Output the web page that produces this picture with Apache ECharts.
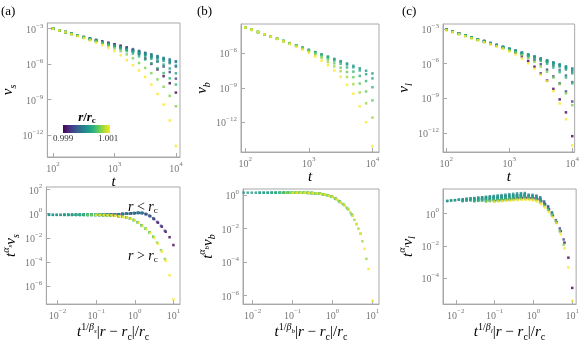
<!DOCTYPE html>
<html>
<head>
<meta charset="utf-8">
<script src="https://cdn.jsdelivr.net/npm/echarts@6/dist/echarts.min.js"></script>
<style>
  html, body { margin: 0; padding: 0; background: #fff; }
  #chart { width: 582px; height: 343px; }
</style>
</head>
<body>
<div id="chart"></div>
<script>
// log10 of the sampled times t
const tLog = [2.0, 2.1, 2.2, 2.3, 2.4, 2.5, 2.6, 2.7, 2.8, 2.9, 3.0, 3.1, 3.2, 3.3, 3.4, 3.5, 3.6, 3.7, 3.8, 3.9, 4.0];

// r / r_c of each curve
const rS = [0.999, 0.9994, 0.9997, 0.99985, 0.99994, 1.00006, 1.00015, 1.0003, 1.0006, 1.001];
const rB = [1.00006, 1.00015, 1.0003, 1.0005, 1.0007, 1.001];
const rL = [0.999, 0.9994, 0.9997, 0.99985, 0.99994, 1.00006, 1.00015, 1.0003, 1.0006, 1.001];

// exponents
const alphaS = 1.45, alphaB = 1.95, alphaL = 1.92;
const invBeta = 1.0;

// log10(t^alpha * nu), one row per r, one column per t
const scaledS = [
  [-0.10, -0.10, -0.10, -0.09, -0.08, -0.07, -0.05, -0.03, -0.01, 0.02, 0.04, 0.06, 0.05, -0.05, -0.22, -0.45, -0.75, -1.08, -1.50, -1.95, -2.60],
  [-0.10, -0.10, -0.10, -0.10, -0.10, -0.09, -0.08, -0.07, -0.05, -0.03, -0.01, 0.01, 0.04, 0.06, 0.05, -0.03, -0.18, -0.40, -0.69, -1.01, -1.42],
  [-0.10, -0.10, -0.10, -0.10, -0.10, -0.10, -0.10, -0.10, -0.09, -0.08, -0.07, -0.05, -0.03, -0.01, 0.01, 0.04, 0.06, 0.05, -0.03, -0.18, -0.40],
  [-0.10, -0.10, -0.10, -0.10, -0.10, -0.10, -0.10, -0.10, -0.10, -0.10, -0.10, -0.09, -0.08, -0.07, -0.05, -0.03, -0.01, 0.01, 0.04, 0.06, 0.05],
  [-0.10, -0.10, -0.10, -0.10, -0.10, -0.10, -0.10, -0.10, -0.10, -0.10, -0.10, -0.10, -0.10, -0.10, -0.10, -0.09, -0.08, -0.07, -0.05, -0.03, -0.01],
  [-0.10, -0.10, -0.10, -0.10, -0.10, -0.10, -0.10, -0.10, -0.10, -0.10, -0.10, -0.10, -0.10, -0.11, -0.12, -0.13, -0.15, -0.17, -0.21, -0.26, -0.32],
  [-0.10, -0.10, -0.10, -0.10, -0.10, -0.10, -0.10, -0.10, -0.10, -0.11, -0.12, -0.13, -0.15, -0.17, -0.21, -0.26, -0.32, -0.41, -0.53, -0.71, -0.97],
  [-0.10, -0.10, -0.10, -0.10, -0.10, -0.10, -0.11, -0.12, -0.13, -0.15, -0.17, -0.21, -0.26, -0.32, -0.41, -0.53, -0.71, -0.97, -1.24, -1.54, -1.92],
  [-0.10, -0.10, -0.10, -0.11, -0.12, -0.13, -0.15, -0.17, -0.21, -0.26, -0.32, -0.41, -0.53, -0.71, -0.97, -1.24, -1.54, -1.92, -2.40, -3.02, -3.75],
  [-0.10, -0.11, -0.12, -0.13, -0.15, -0.18, -0.22, -0.27, -0.33, -0.43, -0.55, -0.75, -1.02, -1.30, -1.60, -2.00, -2.50, -3.15, -3.90, -5.10, -7.10]
];
const scaledB = [
  [0.15, 0.15, 0.15, 0.15, 0.15, 0.15, 0.15, 0.15, 0.15, 0.15, 0.15, 0.15, 0.15, 0.15, 0.15, 0.15, 0.14, 0.13, 0.11, 0.09, 0.05],
  [0.15, 0.15, 0.15, 0.15, 0.15, 0.15, 0.15, 0.15, 0.15, 0.15, 0.15, 0.15, 0.14, 0.13, 0.11, 0.09, 0.05, 0.00, -0.08, -0.21, -0.38],
  [0.15, 0.15, 0.15, 0.15, 0.15, 0.15, 0.15, 0.15, 0.15, 0.14, 0.13, 0.11, 0.09, 0.05, 0.00, -0.08, -0.21, -0.38, -0.56, -0.81, -1.15],
  [0.15, 0.15, 0.15, 0.15, 0.15, 0.15, 0.15, 0.14, 0.13, 0.11, 0.08, 0.04, -0.02, -0.10, -0.24, -0.42, -0.60, -0.86, -1.22, -1.72, -2.30],
  [0.15, 0.15, 0.15, 0.15, 0.15, 0.14, 0.13, 0.12, 0.10, 0.06, 0.01, -0.06, -0.17, -0.33, -0.51, -0.73, -1.04, -1.47, -2.00, -2.75, -3.80],
  [0.15, 0.15, 0.15, 0.15, 0.14, 0.13, 0.11, 0.08, 0.04, -0.02, -0.10, -0.24, -0.42, -0.60, -0.86, -1.22, -1.72, -2.30, -3.20, -4.40, -6.30]
];
const scaledL = [
  [0.78, 0.81, 0.83, 0.86, 0.88, 0.91, 0.94, 0.95, 0.96, 0.95, 0.94, 0.89, 0.77, 0.57, 0.26, -0.13, -0.55, -1.08, -1.80, -2.73, -4.60],
  [0.78, 0.81, 0.83, 0.86, 0.88, 0.91, 0.94, 0.96, 0.99, 1.00, 1.01, 1.02, 1.00, 0.96, 0.85, 0.67, 0.39, 0.00, -0.41, -0.92, -1.60],
  [0.78, 0.81, 0.83, 0.86, 0.88, 0.91, 0.94, 0.96, 0.99, 1.01, 1.04, 1.07, 1.08, 1.09, 1.09, 1.08, 1.04, 0.93, 0.75, 0.46, 0.08],
  [0.78, 0.81, 0.83, 0.86, 0.88, 0.91, 0.94, 0.96, 0.99, 1.01, 1.04, 1.07, 1.09, 1.12, 1.14, 1.16, 1.17, 1.17, 1.16, 1.11, 1.01],
  [0.78, 0.81, 0.83, 0.86, 0.88, 0.91, 0.94, 0.96, 0.99, 1.01, 1.04, 1.07, 1.09, 1.12, 1.14, 1.17, 1.20, 1.22, 1.25, 1.26, 1.27],
  [0.78, 0.81, 0.83, 0.86, 0.88, 0.91, 0.94, 0.95, 0.97, 0.99, 1.01, 1.03, 1.04, 1.06, 1.08, 1.10, 1.12, 1.13, 1.15, 1.16, 1.17],
  [0.78, 0.81, 0.83, 0.85, 0.87, 0.89, 0.91, 0.92, 0.94, 0.96, 0.98, 1.00, 1.01, 1.03, 1.05, 1.06, 1.07, 1.07, 1.04, 0.97, 0.84],
  [0.77, 0.79, 0.81, 0.83, 0.84, 0.86, 0.88, 0.90, 0.92, 0.94, 0.95, 0.97, 0.98, 0.99, 0.99, 0.96, 0.90, 0.76, 0.55, 0.28, -0.03],
  [0.75, 0.77, 0.78, 0.80, 0.82, 0.84, 0.86, 0.87, 0.89, 0.90, 0.91, 0.91, 0.88, 0.82, 0.68, 0.47, 0.21, -0.11, -0.47, -1.09, -1.92],
  [0.73, 0.75, 0.77, 0.79, 0.80, 0.82, 0.84, 0.85, 0.86, 0.85, 0.82, 0.75, 0.59, 0.37, 0.09, -0.23, -0.60, -1.28, -2.15, -3.33, -5.40]
];

// tick positions (log10)
const tTicks = [2, 3, 4];
const xScaledTicks = [-2, -1, 0, 1];
const ySTopTicks = [-3, -6, -9, -12];
const yBTopTicks = [-6, -9, -12];
const yLTopTicks = [-3, -6, -9, -12];
const ySBotTicks = [2, 0, -2, -4, -6];
const yBBotTicks = [0, -2, -4, -6];
const yLBotTicks = [0, -2, -4];

const viridis = ['#440154', '#482878', '#3e4989', '#31688e', '#26828e', '#1f9e89', '#35b779', '#6ece58', '#b5de2b', '#fde725'];
const rMin = 0.999, rMax = 1.001;

function hexRgb(h) {
  return [1, 3, 5].map(i => parseInt(h.slice(i, i + 2), 16));
}
function colorOf(r) {
  const f = Math.min(1, Math.max(0, (r - rMin) / (rMax - rMin))) * (viridis.length - 1);
  const i = Math.min(viridis.length - 2, Math.floor(f));
  const w = f - i;
  const a = hexRgb(viridis[i]), b = hexRgb(viridis[i + 1]);
  return 'rgb(' + [0, 1, 2].map(k => Math.round(a[k] + (b[k] - a[k]) * w)).join(',') + ')';
}

// top row: (log t, log nu), bottom row: (log t^{1/beta}|r-rc|/rc, log t^alpha nu)
function topPoints(rs, scaled, alpha) {
  const pts = [];
  rs.forEach((r, i) => tLog.forEach((lt, k) => pts.push([lt, scaled[i][k] - alpha * lt, r])));
  return pts;
}
function bottomPoints(rs, scaled) {
  const pts = [];
  rs.forEach((r, i) => {
    const ld = Math.log10(Math.abs(r - 1));
    tLog.forEach((lt, k) => pts.push([lt * invBeta + ld, scaled[i][k], r]));
  });
  return pts;
}

const serif = '"Liberation Serif", "DejaVu Serif", serif';
const frameColor = '#a8a8a8';
const labelColor = '#777';

const tickRich = {
  b: { fontFamily: serif, fontSize: 10, color: labelColor, lineHeight: 13, verticalAlign: 'bottom' },
  e: { fontFamily: serif, fontSize: 7, color: labelColor, lineHeight: 7, verticalAlign: 'top' }
};
const powLabel = v => '{b|10}{e|' + String(Math.round(v)).replace('-', '\u2212') + '}';

const nameRich = {
  i: { fontFamily: serif, fontStyle: 'italic', fontSize: 15, color: '#000', lineHeight: 20, verticalAlign: 'middle' },
  u: { fontFamily: serif, fontSize: 15, color: '#000', lineHeight: 20, verticalAlign: 'middle' },
  sub: { fontFamily: serif, fontStyle: 'italic', fontSize: 10, color: '#000', lineHeight: 10, verticalAlign: 'bottom' },
  subu: { fontFamily: serif, fontSize: 10, color: '#000', lineHeight: 10, verticalAlign: 'bottom' },
  sup: { fontFamily: serif, fontSize: 10, color: '#000', lineHeight: 10, verticalAlign: 'top' },
  supi: { fontFamily: serif, fontStyle: 'italic', fontSize: 10, color: '#000', lineHeight: 10, verticalAlign: 'top' },
  supsub: { fontFamily: serif, fontStyle: 'italic', fontSize: 7, color: '#000', lineHeight: 7, verticalAlign: 'top', padding: [6, 0, 0, 0] }
};

const grids = [
  { left: 42, top: 23, width: 138, height: 134 },
  { left: 241, top: 24, width: 138, height: 128 },
  { left: 443, top: 24, width: 134, height: 128 },
  { left: 43, top: 187, width: 137, height: 124 },
  { left: 243, top: 189, width: 136, height: 122 },
  { left: 443, top: 189, width: 134, height: 122 }
].map(g => Object.assign(g, { show: true, borderColor: frameColor, borderWidth: 1 }));

function axis(g, range, ticks, name, gap, rotate) {
  return {
    type: 'value', gridIndex: g, min: range[0], max: range[1],
    axisLine: { show: true, onZero: false, lineStyle: { color: frameColor } },
    axisTick: { show: true, inside: true, length: 4, customValues: ticks, lineStyle: { color: frameColor } },
    axisLabel: { customValues: ticks, formatter: powLabel, rich: tickRich, margin: 4 },
    splitLine: { show: false },
    name: name, nameLocation: 'middle', nameGap: gap, nameRotate: rotate,
    nameTextStyle: { rich: nameRich }
  };
}

const xNameB = s => '{i|t}{sup|1/}{supi|\u03b2}{supsub|' + s + '}{u||}{i|r}{u| \u2212 }{i|r}{subu|c}{u||/}{i|r}{subu|c}';
const yNameB = s => '{i|t}{supi|\u03b1}{supsub|' + s + '}{i|\u03bd}{sub|' + s + '}';

const xAxes = [
  axis(0, [1.906, 4.067], tTicks, '{i|t}', 7),
  axis(1, [1.933, 4.103], tTicks, '{i|t}', 12),
  axis(2, [1.947, 4.038], tTicks, '{i|t}', 12),
  axis(3, [-2.29, 1.17], xScaledTicks, xNameB('s'), 12),
  axis(4, [-2.24, 1.16], xScaledTicks, xNameB('b'), 12),
  axis(5, [-2.33, 1.10], xScaledTicks, xNameB('l'), 12)
];
const yAxes = [
  axis(0, [-13.84, -2.52], ySTopTicks, '{i|\u03bd}{sub|s}', 16, 90),
  axis(1, [-14.6, -3.44], yBTopTicks, '{i|\u03bd}{sub|b}', 18, 90),
  axis(2, [-13.65, -2.57], yLTopTicks, '{i|\u03bd}{sub|l}', 16, 90),
  axis(3, [-7.48, 2.2], ySBotTicks, yNameB('s'), 14, 90),
  axis(4, [-6.5, 0.37], yBBotTicks, yNameB('b'), 14, 90),
  axis(5, [-5.6, 1.52], yLBotTicks, yNameB('l'), 14, 90)
];

const panelData = [
  topPoints(rS, scaledS, alphaS),
  topPoints(rB, scaledB, alphaB),
  topPoints(rL, scaledL, alphaL),
  bottomPoints(rS, scaledS),
  bottomPoints(rB, scaledB),
  bottomPoints(rL, scaledL)
];

const series = panelData.map((d, g) => ({
  type: 'scatter', xAxisIndex: g, yAxisIndex: g,
  symbol: 'rect', symbolSize: 2.5, silent: true,
  itemStyle: { color: p => colorOf(p.data[2]) },
  data: d
}));

const textStyle = (extra) => Object.assign({ fontFamily: serif, fill: '#000' }, extra);

const graphic = [
  { type: 'text', left: 1, top: 5, style: textStyle({ text: '(a)', fontSize: 13 }) },
  { type: 'text', left: 197, top: 5, style: textStyle({ text: '(b)', fontSize: 13 }) },
  { type: 'text', left: 402, top: 5, style: textStyle({ text: '(c)', fontSize: 13 }) },
  // colour bar
  {
    type: 'rect', shape: { x: 63, y: 125, width: 47, height: 8 },
    style: {
      fill: new echarts.graphic.LinearGradient(0, 0, 1, 0,
        viridis.map((c, i) => ({ offset: i / (viridis.length - 1), color: c })))
    }
  },
  {
    type: 'text', x: 87, y: 118,
    style: {
      text: '{i|r}{u|/}{i|r}{s|c}', align: 'center', verticalAlign: 'middle',
      rich: {
        i: { fontFamily: serif, fontStyle: 'italic', fontWeight: 'bold', fontSize: 13, lineHeight: 15, verticalAlign: 'middle' },
        u: { fontFamily: serif, fontWeight: 'bold', fontSize: 13, lineHeight: 15, verticalAlign: 'middle' },
        s: { fontFamily: serif, fontWeight: 'bold', fontSize: 9, lineHeight: 9, verticalAlign: 'bottom' }
      }
    }
  },
  { type: 'text', x: 63, y: 139, style: textStyle({ text: '0.999', fontSize: 9, fill: '#333', align: 'center', verticalAlign: 'middle' }) },
  { type: 'text', x: 108, y: 139, style: textStyle({ text: '1.001', fontSize: 9, fill: '#333', align: 'center', verticalAlign: 'middle' }) },
  // branch annotations
  {
    type: 'text', x: 128, y: 207,
    style: {
      text: '{i|r}{u| < }{i|r}{s|c}', verticalAlign: 'middle',
      rich: {
        i: { fontFamily: serif, fontStyle: 'italic', fontSize: 14, lineHeight: 16, verticalAlign: 'middle' },
        u: { fontFamily: serif, fontSize: 14, lineHeight: 16, verticalAlign: 'middle' },
        s: { fontFamily: serif, fontSize: 9, lineHeight: 9, verticalAlign: 'bottom' }
      }
    }
  },
  {
    type: 'text', x: 128, y: 256,
    style: {
      text: '{i|r}{u| > }{i|r}{s|c}', verticalAlign: 'middle',
      rich: {
        i: { fontFamily: serif, fontStyle: 'italic', fontSize: 14, lineHeight: 16, verticalAlign: 'middle' },
        u: { fontFamily: serif, fontSize: 14, lineHeight: 16, verticalAlign: 'middle' },
        s: { fontFamily: serif, fontSize: 9, lineHeight: 9, verticalAlign: 'bottom' }
      }
    }
  }
];

const chart = echarts.init(document.getElementById('chart'), null, { renderer: 'canvas' });
chart.setOption({
  animation: false,
  backgroundColor: '#fff',
  grid: grids,
  xAxis: xAxes,
  yAxis: yAxes,
  series: series,
  graphic: graphic
});
</script>
</body>
</html>
